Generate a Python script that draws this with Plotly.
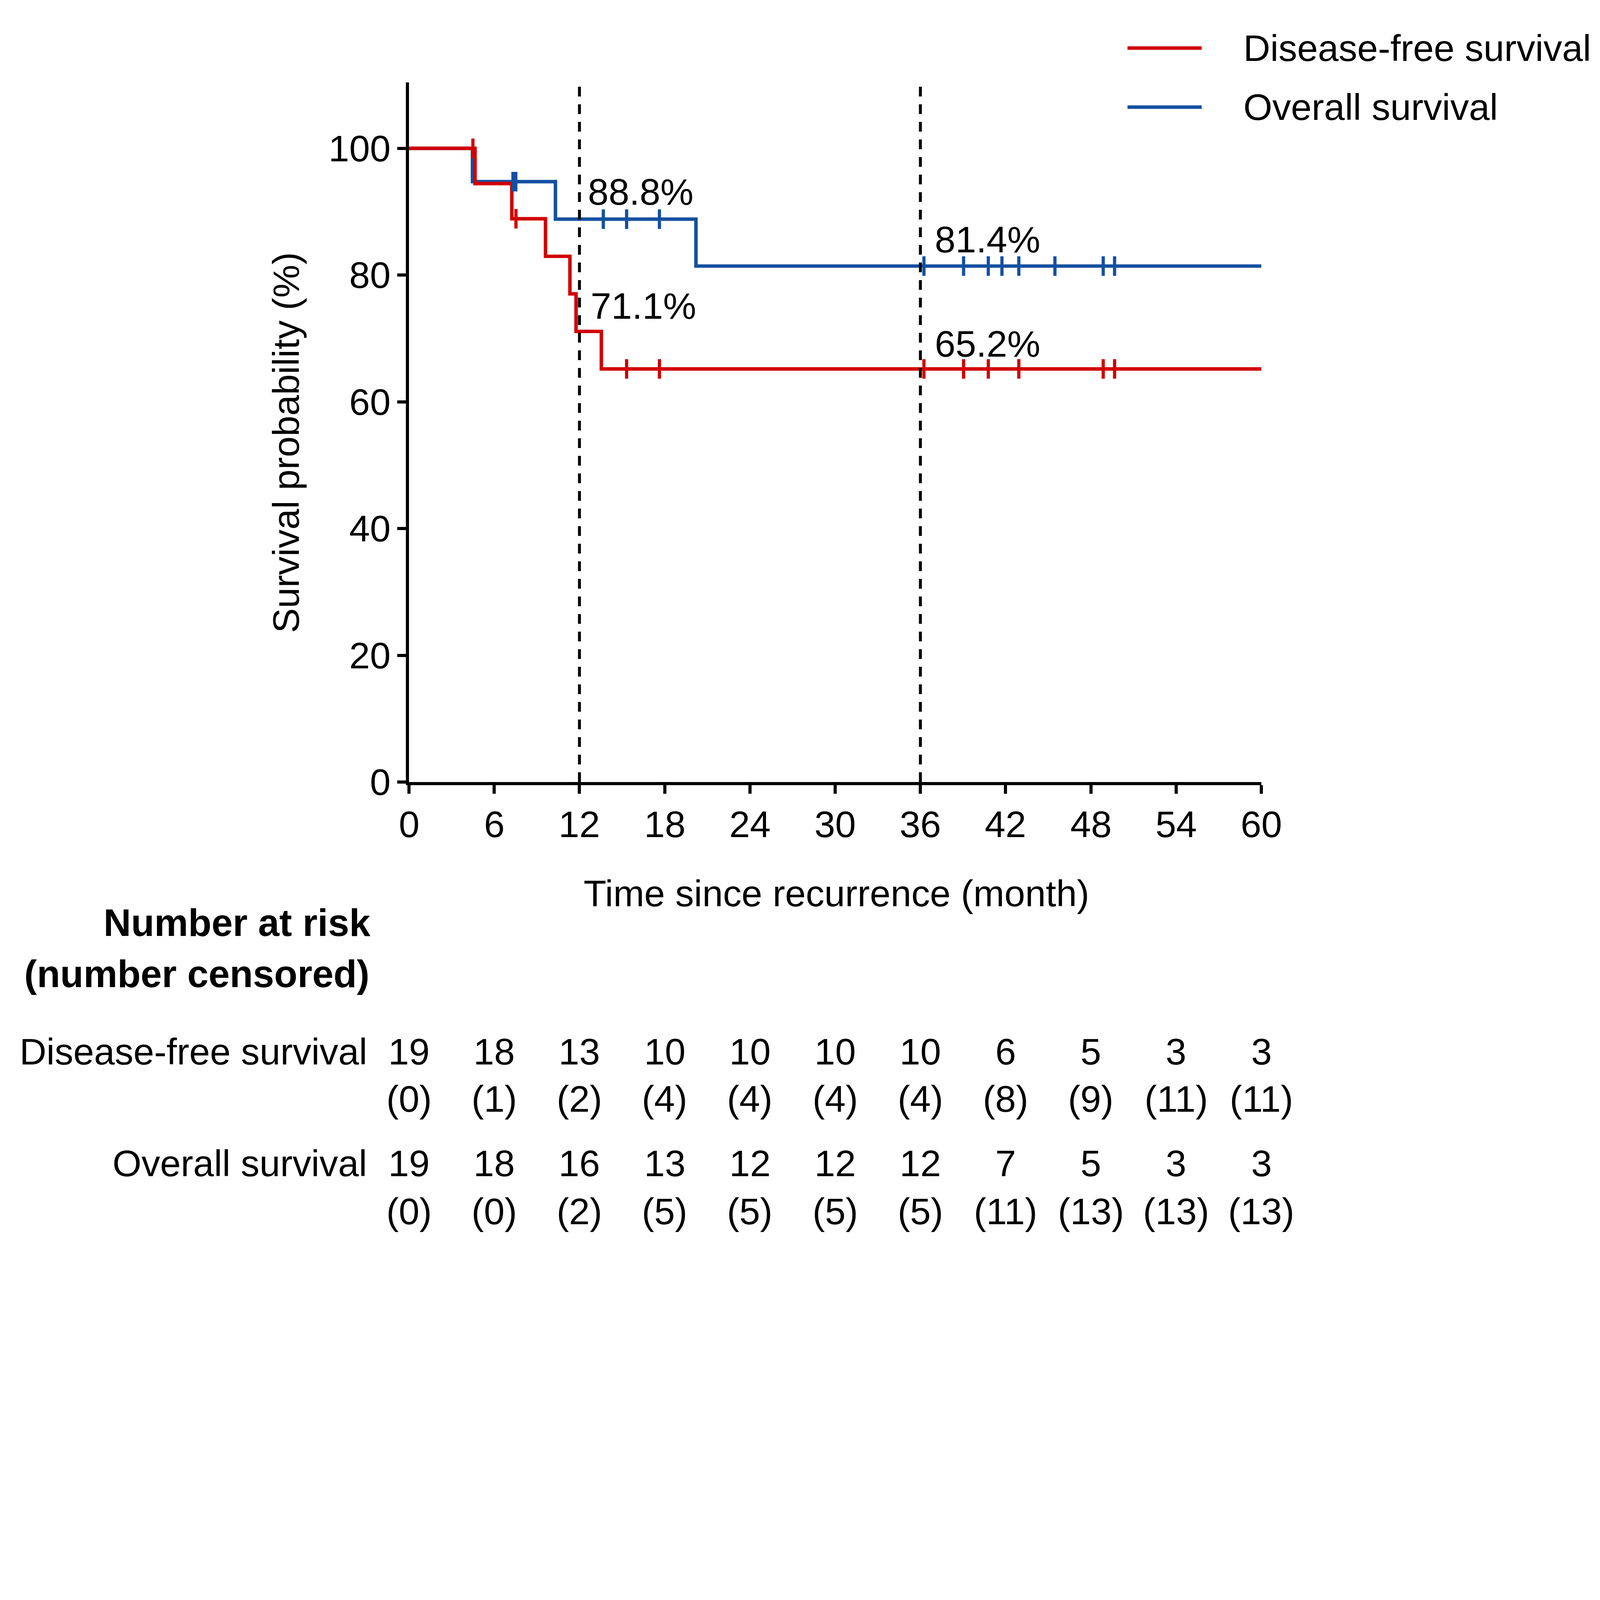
import plotly.graph_objects as go

# ---------------- data ----------------
month_ticks = [0, 6, 12, 18, 24, 30, 36, 42, 48, 54, 60]
surv_ticks = [0, 20, 40, 60, 80, 100]

dfs_time = [0, 4.65, 7.24, 9.61, 11.33, 11.76, 13.54, 60]
dfs_surv = [100, 94.44, 88.89, 82.96, 77.04, 71.11, 65.19, 65.19]
os_time = [0, 4.47, 10.31, 20.20, 60]
os_surv = [100, 94.74, 88.82, 81.42, 81.42]

dfs_cens_time = [4.50, 7.53, 15.32, 17.63, 36.25, 39.04, 40.78, 42.93, 48.87, 49.67]
os_cens_time = [7.32, 7.52, 13.68, 15.32, 17.63, 36.25, 39.04, 40.78, 41.74,
                42.93, 45.47, 48.87, 49.67]

milestone_months = [12, 36]
dfs_milestone_labels = ["71.1%", "65.2%"]
os_milestone_labels = ["88.8%", "81.4%"]

series_names = ["Disease-free survival", "Overall survival"]
dfs_at_risk = [19, 18, 13, 10, 10, 10, 10, 6, 5, 3, 3]
dfs_censored = [0, 1, 2, 4, 4, 4, 4, 8, 9, 11, 11]
os_at_risk = [19, 18, 16, 13, 12, 12, 12, 7, 5, 3, 3]
os_censored = [0, 0, 2, 5, 5, 5, 5, 11, 13, 13, 13]


def step_value(times, values, t):
    v = values[0]
    for ti, vi in zip(times, values):
        if ti <= t:
            v = vi
    return v


dfs_cens_surv = [step_value(dfs_time, dfs_surv, t) for t in dfs_cens_time]
os_cens_surv = [step_value(os_time, os_surv, t) for t in os_cens_time]

# ---------------- style / layout ----------------
# reference is 5477 x 4284; the page is drawn scaled to fit the browser viewport
REF_W, REF_H = 5477, 4284
S = 4080 / REF_W
W, H = round(REF_W * S), round(REF_H * S)
OFF = 8  # default page body margin (px) to compensate


def sc(v):
    return v * S


L, R, T, B = 1405, 4335, 283, 2687   # plot area in reference pixels
RED = "#D20000"
BLUE = "#1450A0"
FONT = "Liberation Sans, Arial, Helvetica, sans-serif"
FS = sc(128)
FS_BOLD = sc(131)


def px_x(px):
    return (px - L) / (R - L)


def px_y(py):
    return (B - py) / (B - T)


def font(size=None):
    return dict(size=size or FS, color="black", family=FONT)


fig = go.Figure()

fig.add_trace(go.Scatter(x=os_time, y=os_surv, mode="lines",
                         line=dict(shape="hv", color=BLUE, width=sc(12)),
                         name=series_names[1], hoverinfo="skip"))
fig.add_trace(go.Scatter(x=dfs_time, y=dfs_surv, mode="lines",
                         line=dict(shape="hv", color=RED, width=sc(12)),
                         name=series_names[0], hoverinfo="skip"))
fig.add_trace(go.Scatter(x=os_cens_time, y=os_cens_surv, mode="markers",
                         marker=dict(symbol="line-ns", size=sc(48),
                                     line=dict(color=BLUE, width=sc(11))),
                         hoverinfo="skip", showlegend=False))
fig.add_trace(go.Scatter(x=dfs_cens_time, y=dfs_cens_surv, mode="markers",
                         marker=dict(symbol="line-ns", size=sc(48),
                                     line=dict(color=RED, width=sc(11))),
                         hoverinfo="skip", showlegend=False))

shapes = []
dash = "%dpx,%dpx" % (round(sc(33)), round(sc(27)))
for m in milestone_months:
    shapes.append(dict(type="line", xref="x", yref="paper", x0=m, x1=m, y0=0, y1=1,
                       line=dict(color="black", width=sc(10), dash=dash),
                       layer="above"))

annotations = []

# manual legend
legend_rows_py = [165, 368]
legend_colors = [RED, BLUE]
for name, col, py in zip(series_names, legend_colors, legend_rows_py):
    shapes.append(dict(type="line", xref="paper", yref="paper",
                       x0=px_x(3875), x1=px_x(4130), y0=px_y(py), y1=px_y(py),
                       line=dict(color=col, width=sc(12))))
    annotations.append(dict(text=name, xref="paper", yref="paper",
                            x=px_x(4270), y=px_y(py), xanchor="left", yanchor="middle",
                            showarrow=False, font=font()))

# tick labels (placed on the axis scales)
for t in month_ticks:
    annotations.append(dict(text=str(t), xref="x", yref="paper", x=t, y=px_y(2832),
                            xanchor="center", yanchor="middle", showarrow=False,
                            font=font()))
for v in surv_ticks:
    annotations.append(dict(text=str(v), xref="paper", yref="y", x=px_x(1345), y=v,
                            xanchor="right", yanchor="middle", showarrow=False,
                            font=font()))

# milestone labels
ms_pos = {
    "88.8%": (12.55, 93.15),
    "71.1%": (12.72, 75.15),
    "81.4%": (36.95, 85.6),
    "65.2%": (36.95, 69.15),
}
for lab in os_milestone_labels + dfs_milestone_labels:
    x, y = ms_pos[lab]
    annotations.append(dict(text=lab, xref="x", yref="y", x=x, y=y,
                            xanchor="left", yanchor="middle", showarrow=False,
                            font=font()))

# axis titles
annotations.append(dict(text="Time since recurrence (month)", xref="paper", yref="paper",
                        x=px_x(2875), y=px_y(3070), xanchor="center", yanchor="middle",
                        showarrow=False, font=font()))
annotations.append(dict(text="Survival probability (%)", xref="paper", yref="paper",
                        x=px_x(982), y=px_y(1520), xanchor="center", yanchor="middle",
                        textangle=-90, showarrow=False, font=font()))

# risk table
annotations.append(dict(text="<b>Number at risk</b>", xref="paper", yref="paper",
                        x=px_x(1276), y=px_y(3171), xanchor="right", yanchor="middle",
                        showarrow=False, font=font(FS_BOLD)))
annotations.append(dict(text="<b>(number censored)</b>", xref="paper", yref="paper",
                        x=px_x(1272), y=px_y(3347), xanchor="right", yanchor="middle",
                        showarrow=False, font=font(FS_BOLD)))

table_rows = [
    (series_names[0], dfs_at_risk, dfs_censored, 3613, 3776),
    (series_names[1], os_at_risk, os_censored, 3997, 4162),
]
for name, risk, cens, py_n, py_c in table_rows:
    annotations.append(dict(text=name, xref="paper", yref="paper",
                            x=px_x(1264), y=px_y(py_n), xanchor="right", yanchor="middle",
                            showarrow=False, font=font()))
    for t, n, c in zip(month_ticks, risk, cens):
        annotations.append(dict(text=str(n), xref="x", yref="paper", x=t, y=px_y(py_n),
                                xanchor="center", yanchor="middle", showarrow=False,
                                font=font()))
        annotations.append(dict(text="(%d)" % c, xref="x", yref="paper", x=t, y=px_y(py_c),
                                xanchor="center", yanchor="middle", showarrow=False,
                                font=font()))

axis_common = dict(showline=True, linecolor="black", linewidth=sc(11),
                   ticks="outside", ticklen=sc(30), tickwidth=sc(11), tickcolor="black",
                   showgrid=False, zeroline=False, showticklabels=False)

ml = sc(L) - OFF
mt = sc(T) - OFF
fig.update_layout(
    width=W, height=H,
    margin=dict(l=ml, r=W - ml - sc(R - L), t=mt, b=H - mt - sc(B - T), pad=0),
    paper_bgcolor="white", plot_bgcolor="white",
    showlegend=False,
    font=font(),
    xaxis=dict(range=[0, 60], tickvals=month_ticks, **axis_common),
    yaxis=dict(range=[0, 110.4], tickvals=surv_ticks, **axis_common),
    shapes=shapes,
    annotations=annotations,
)

fig.write_html("out.html")
